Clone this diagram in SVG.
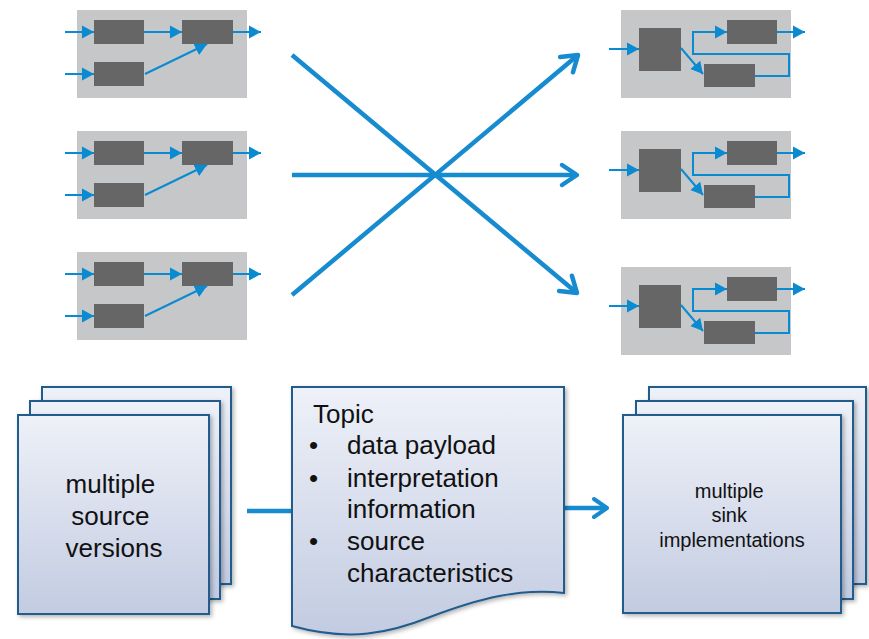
<svg xmlns="http://www.w3.org/2000/svg" width="869" height="639" viewBox="0 0 869 639">
<defs>
<style>
.pnl{fill:#c6c7c8}
.box{fill:#666666}
.sa{stroke:#0a8ad0;stroke-width:2;fill:none;marker-end:url(#tri)}
.big{stroke:#168bcf;stroke-width:4.5;fill:none;stroke-linecap:butt}
.card{fill:url(#grad);stroke:#235b8c;stroke-width:2}
.t{font-family:"Liberation Sans",Arial,sans-serif;fill:#111111}
</style>
<linearGradient id="grad" x1="0" y1="0" x2="0" y2="1">
<stop offset="0" stop-color="#eef1f8"/>
<stop offset="1" stop-color="#c2cbe1"/>
</linearGradient>
<filter id="sh" x="-10%" y="-10%" width="130%" height="130%">
<feDropShadow dx="2" dy="2" stdDeviation="2" flood-color="#000" flood-opacity="0.3"/>
</filter>
<marker id="tri" markerUnits="userSpaceOnUse" markerWidth="14" markerHeight="14" viewBox="0 0 14 14" refX="12" refY="7" orient="auto">
<path d="M0,0.5 L12,7 L0,13.5 z" fill="#0a8ad0"/>
</marker>
<marker id="chev" markerUnits="userSpaceOnUse" markerWidth="34" markerHeight="34" viewBox="-22 -17 34 34" refX="0" refY="0" orient="auto">
<path d="M-15,-10 L0,0 L-15,10" fill="none" stroke="#168bcf" stroke-width="4.5" stroke-linecap="round" stroke-linejoin="round"/>
</marker>
<marker id="chev2" markerUnits="userSpaceOnUse" markerWidth="34" markerHeight="34" viewBox="-22 -17 34 34" refX="0" refY="0" orient="auto">
<path d="M-13,-9 L0,0 L-13,9" fill="none" stroke="#168bcf" stroke-width="4" stroke-linecap="round" stroke-linejoin="round"/>
</marker>
</defs>
<rect width="869" height="639" fill="#ffffff"/>

<g id="source1">
<rect class="pnl" x="77" y="10" width="170" height="88"/>
<rect class="box" x="94" y="20" width="50" height="24"/>
<rect class="box" x="94" y="62" width="50" height="24"/>
<rect class="box" x="182" y="20" width="51" height="24"/>
<line class="sa" x1="65" y1="32" x2="94" y2="32"/>
<line class="sa" x1="65" y1="74" x2="94" y2="74"/>
<line class="sa" x1="144" y1="32" x2="182" y2="32"/>
<line class="sa" x1="233" y1="32" x2="261" y2="32"/>
<line class="sa" x1="145" y1="74" x2="207" y2="44"/>
</g>
<g id="source2" transform="translate(0,121)">
<rect class="pnl" x="77" y="10" width="170" height="88"/>
<rect class="box" x="94" y="20" width="50" height="24"/>
<rect class="box" x="94" y="62" width="50" height="24"/>
<rect class="box" x="182" y="20" width="51" height="24"/>
<line class="sa" x1="65" y1="32" x2="94" y2="32"/>
<line class="sa" x1="65" y1="74" x2="94" y2="74"/>
<line class="sa" x1="144" y1="32" x2="182" y2="32"/>
<line class="sa" x1="233" y1="32" x2="261" y2="32"/>
<line class="sa" x1="145" y1="74" x2="207" y2="44"/>
</g>
<g id="source3" transform="translate(0,242)">
<rect class="pnl" x="77" y="10" width="170" height="88"/>
<rect class="box" x="94" y="20" width="50" height="24"/>
<rect class="box" x="94" y="62" width="50" height="24"/>
<rect class="box" x="182" y="20" width="51" height="24"/>
<line class="sa" x1="65" y1="32" x2="94" y2="32"/>
<line class="sa" x1="65" y1="74" x2="94" y2="74"/>
<line class="sa" x1="144" y1="32" x2="182" y2="32"/>
<line class="sa" x1="233" y1="32" x2="261" y2="32"/>
<line class="sa" x1="145" y1="74" x2="207" y2="44"/>
</g>

<g id="sink1">
<rect class="pnl" x="621" y="10" width="170" height="88"/>
<rect class="box" x="639" y="28" width="42" height="43"/>
<rect class="box" x="727" y="20" width="50" height="24"/>
<rect class="box" x="704" y="64" width="51" height="23"/>
<line class="sa" x1="609" y1="49" x2="639" y2="49"/>
<line class="sa" x1="681" y1="48" x2="703" y2="74"/>
<polyline class="sa" points="755,76 789,76 789,54 693,54 693,32 727,32"/>
<line class="sa" x1="777" y1="32" x2="805" y2="32"/>
</g>
<g id="sink2" transform="translate(0,121)">
<rect class="pnl" x="621" y="10" width="170" height="88"/>
<rect class="box" x="639" y="28" width="42" height="43"/>
<rect class="box" x="727" y="20" width="50" height="24"/>
<rect class="box" x="704" y="64" width="51" height="23"/>
<line class="sa" x1="609" y1="49" x2="639" y2="49"/>
<line class="sa" x1="681" y1="48" x2="703" y2="74"/>
<polyline class="sa" points="755,76 789,76 789,54 693,54 693,32 727,32"/>
<line class="sa" x1="777" y1="32" x2="805" y2="32"/>
</g>
<g id="sink3" transform="translate(0,257)">
<rect class="pnl" x="621" y="10" width="170" height="88"/>
<rect class="box" x="639" y="28" width="42" height="43"/>
<rect class="box" x="727" y="20" width="50" height="24"/>
<rect class="box" x="704" y="64" width="51" height="23"/>
<line class="sa" x1="609" y1="49" x2="639" y2="49"/>
<line class="sa" x1="681" y1="48" x2="703" y2="74"/>
<polyline class="sa" points="755,76 789,76 789,54 693,54 693,32 727,32"/>
<line class="sa" x1="777" y1="32" x2="805" y2="32"/>
</g>

<g id="connectors">
<line class="big" x1="292" y1="55" x2="577" y2="293" marker-end="url(#chev)"/>
<line class="big" x1="292" y1="295" x2="578" y2="55" marker-end="url(#chev)"/>
<line class="big" x1="292" y1="175" x2="577" y2="175" marker-end="url(#chev)"/>
<line class="big" x1="247" y1="511" x2="294" y2="511" stroke-width="4"/>
<line class="big" x1="564" y1="508" x2="607" y2="508" stroke-width="4" marker-end="url(#chev2)"/>
</g>

<g id="sources">
<rect class="card" x="42" y="387" width="189" height="197" filter="url(#sh)"/>
<rect class="card" x="30" y="401" width="190" height="198" filter="url(#sh)"/>
<rect class="card" x="18" y="415" width="191" height="199" filter="url(#sh)"/>
<text class="t" font-size="26" text-anchor="middle" x="114">
<tspan x="114" y="493">multiple</tspan>
<tspan x="114" y="525">source</tspan>
<tspan x="114" y="557">versions</tspan>
</text>
</g>

<g id="topic">
<path class="card" filter="url(#sh)" d="M292,387 L564,387 L564,593 C520,588 480,598 430,617 C390,633 350,642 292,626 Z"/>
<text class="t" font-size="26">
<tspan x="313" y="423">Topic</tspan>
<tspan x="309" y="454">•</tspan><tspan x="347" y="454">data payload</tspan>
<tspan x="309" y="487">•</tspan><tspan x="347" y="487">interpretation</tspan>
<tspan x="347" y="518">information</tspan>
<tspan x="309" y="550">•</tspan><tspan x="347" y="550">source</tspan>
<tspan x="347" y="582">characteristics</tspan>
</text>
</g>

<g id="sinks">
<rect class="card" x="649" y="387" width="217" height="197" filter="url(#sh)"/>
<rect class="card" x="636" y="401" width="217" height="198" filter="url(#sh)"/>
<rect class="card" x="623" y="415" width="218" height="198" filter="url(#sh)"/>
<text class="t" font-size="20" text-anchor="middle">
<tspan x="732" y="498">multiple</tspan>
<tspan x="732" y="522">sink</tspan>
<tspan x="732" y="547">implementations</tspan>
</text>
</g>
</svg>
